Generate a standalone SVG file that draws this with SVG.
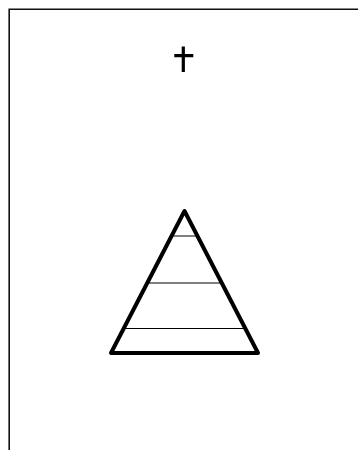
<svg xmlns="http://www.w3.org/2000/svg" width="358" height="450" viewBox="0 0 358 450">
<style>
.frame{fill:none;stroke:#111;stroke-width:1.6}
.thick{fill:none;stroke:#000;stroke-width:4;stroke-linejoin:round;stroke-linecap:round}
.thin{fill:none;stroke:#000;stroke-width:1.2}
.cross{fill:none;stroke:#000;stroke-width:3.2}
</style>
<rect width="358" height="450" fill="#fff"/>
<path class="frame" d="M9.2 450 V9.2 H358"/>
<g id="cross">
<path class="cross" d="M183.3 46.5 V72 M174.3 55.7 H193.3"/>
</g>
<g id="pyramid">
<path class="thin" d="M171.5 236 H197.5 M148 283 H220 M125 328.5 H244"/>
<path class="thick" d="M184.5 211 L111 353 H258 Z"/>
</g>
</svg>
